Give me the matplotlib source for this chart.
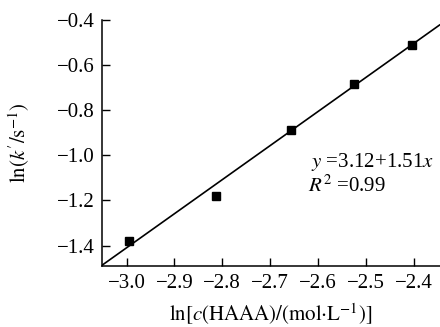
import matplotlib
matplotlib.use('Agg')
import matplotlib.pyplot as plt
import numpy as np

plt.rcParams['font.family'] = 'Liberation Serif'
plt.rcParams['mathtext.fontset'] = 'stix'

# data
ln_c = [-2.995, -2.814, -2.656, -2.525, -2.403]
ln_k = [-1.378, -1.181, -0.889, -0.686, -0.511]
intercept = 3.12
slope = 1.51
xticks = [-3.0, -2.9, -2.8, -2.7, -2.6, -2.5, -2.4]
yticks = [-0.4, -0.6, -0.8, -1.0, -1.2, -1.4]

fs = 15

fig = plt.figure(figsize=(4.4, 3.27), dpi=100)
ax = fig.add_axes([0.231, 0.187, 0.768, 0.752])

xlim = (-3.052, -2.346)
xs = np.array(xlim)
ax.plot(xs, intercept + slope * xs, color='black', lw=1.2)
ax.plot(ln_c, ln_k, 's', color='black', ms=5.5)

ax.set_xlim(*xlim)
ax.set_ylim(-1.49, -0.4)
ax.set_xticks(xticks)
ax.set_yticks(yticks)
ax.set_xticklabels([f'{v:.1f}'.replace('-', '\u2212') for v in xticks])
ax.set_yticklabels([f'{v:.1f}'.replace('-', '\u2212') for v in yticks])
ax.tick_params(direction='in', length=6, width=1, labelsize=fs)
ax.tick_params(axis='x', pad=6)
ax.tick_params(axis='y', pad=5)

for s in ['top', 'right']:
    ax.spines[s].set_visible(False)
for s in ['left', 'bottom']:
    ax.spines[s].set_linewidth(1.1)

ax.set_xlabel(r'$\mathrm{ln}[c(\mathrm{HAAA})/(\mathrm{mol{\cdot}L}^{-1})]$', fontsize=fs)
ax.set_ylabel(r"$\mathrm{ln}(k'/\mathrm{s}^{-1})$", fontsize=fs)
ax.xaxis.set_label_coords(0.5, -0.145)
ax.yaxis.set_label_coords(-0.205, 0.5)

ax.text(0.621, 0.402, r'$y$ =3.12+1.51$x$', transform=ax.transAxes,
        fontsize=fs, va='baseline')
ax.text(0.610, 0.30, r'$R^2$ =0.99', transform=ax.transAxes,
        fontsize=fs, va='baseline')

fig.savefig('out.png', dpi=100)
